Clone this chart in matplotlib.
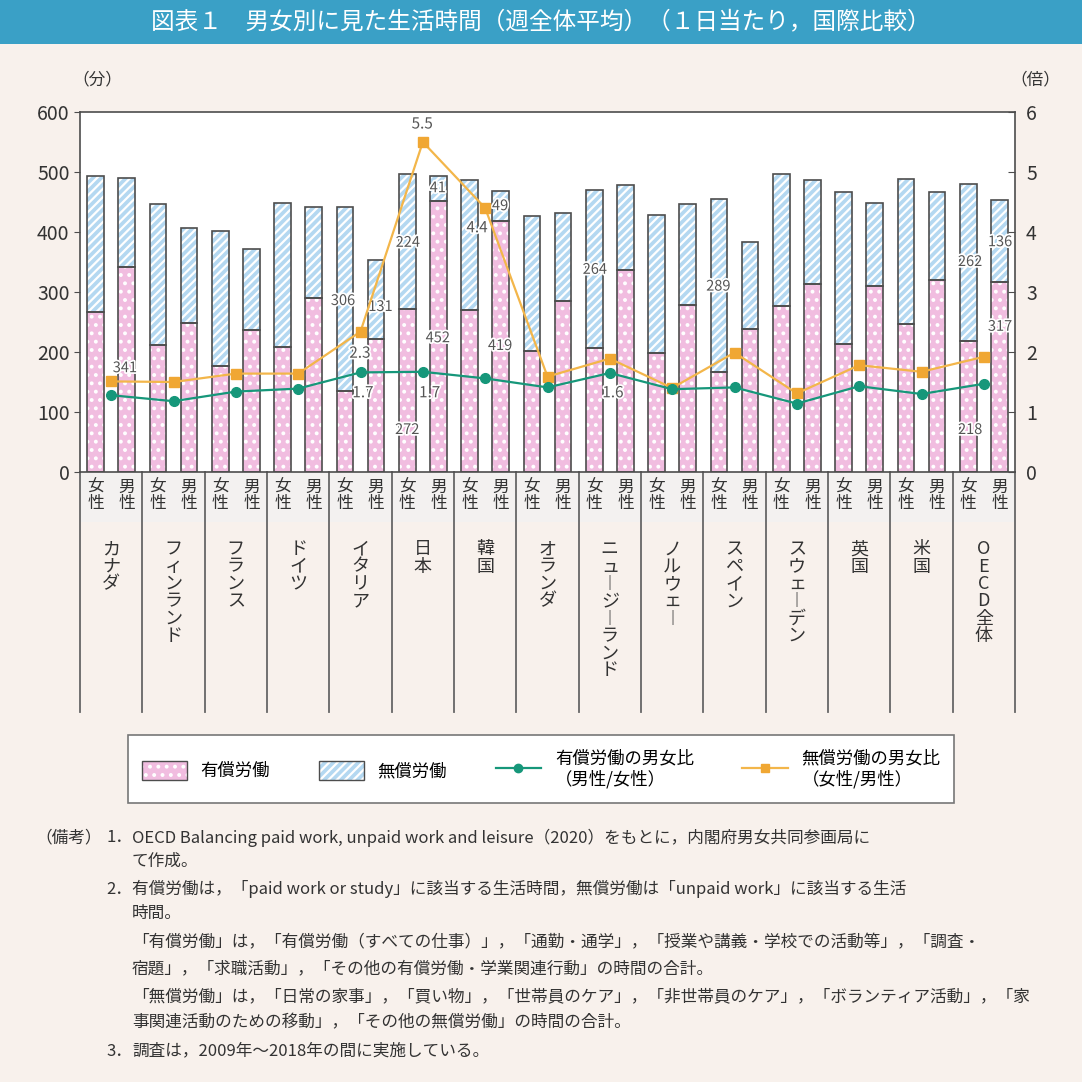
import matplotlib
matplotlib.use('Agg')
import matplotlib.pyplot as plt
import matplotlib.patheffects as pe
from matplotlib.patches import Patch, Rectangle
from matplotlib.lines import Line2D
import numpy as np

plt.rcParams['font.family'] = ['Noto Sans CJK JP', 'DejaVu Sans']
plt.rcParams['hatch.linewidth'] = 1.6

# データ（分／倍）
countries = ['カナダ', 'フィンランド', 'フランス', 'ドイツ', 'イタリア', '日本', '韓国', 'オランダ',
             'ニュージーランド', 'ノルウェー', 'スペイン', 'スウェーデン', '英国', '米国', 'OECD全体']
female_paid = [267, 212, 177, 209, 135, 272, 270, 202, 206, 198, 166, 277, 214, 247, 218]
female_unpaid = [226, 235, 224, 240, 306, 224, 217, 225, 264, 231, 289, 219, 252, 241, 262]
male_paid = [341, 249, 236, 290, 222, 452, 419, 285, 337, 279, 238, 313, 310, 320, 317]
male_unpaid = [149, 157, 135, 151, 131, 41, 49, 147, 141, 167, 146, 174, 139, 146, 136]
paid_ratio = [1.28, 1.18, 1.34, 1.39, 1.66, 1.67, 1.56, 1.41, 1.65, 1.38, 1.41, 1.14, 1.43, 1.30, 1.47]
unpaid_ratio = [1.51, 1.50, 1.64, 1.64, 2.34, 5.5, 4.4, 1.59, 1.89, 1.40, 1.99, 1.31, 1.78, 1.67, 1.92]

# 表示されている数値ラベル（x位置, y値, 文字列）
min_labels = [(0.22, 173, '341'), (3.72, 285, '306'), (4.32, 275, '131'),
              (4.76, 382, '224'), (4.75, 70, '272'), (5.24, 223, '452'), (5.24, 473, '41'),
              (6.24, 443, '49'), (6.24, 210, '419'), (7.76, 337, '264'), (9.74, 309, '289'),
              (13.78, 350, '262'), (14.26, 383, '136'), (13.78, 70, '218'), (14.26, 242, '317')]
ratio_labels = [(3.99, 1.98, '2.3'), (4.04, 1.32, '1.7'), (4.99, 5.8, '5.5'),
                (5.11, 1.32, '1.7'), (5.87, 4.07, '4.4'), (8.05, 1.32, '1.6')]

title = '図表１　男女別に見た生活時間（週全体平均）（１日当たり，国際比較）'

notes = [
    (0.098, 838, '1．'), (0.122, 838, 'OECD Balancing paid work, unpaid work and leisure（2020）をもとに，内閣府男女共同参画局に'),
    (0.122, 861, 'て作成。'),
    (0.098, 889, '2．'), (0.122, 889, '有償労働は，「paid work or study」に該当する生活時間，無償労働は「unpaid work」に該当する生活'),
    (0.122, 913, '時間。'),
    (0.122, 943, '「有償労働」は，「有償労働（すべての仕事）」，「通勤・通学」，「授業や講義・学校での活動等」，「調査・'),
    (0.122, 969, '宿題」，「求職活動」，「その他の有償労働・学業関連行動」の時間の合計。'),
    (0.122, 997, '「無償労働」は，「日常の家事」，「買い物」，「世帯員のケア」，「非世帯員のケア」，「ボランティア活動」，「家'),
    (0.122, 1023, '事関連活動のための移動」，「その他の無償労働」の時間の合計。'),
    (0.098, 1051, '3．'), (0.122, 1051, '調査は，2009年～2018年の間に実施している。'),
]

bg = '#f8f1ec'
pink = '#f1bde0'
blue = '#b4d8f1'
green = '#16977a'
orange = '#f0a733'
edge = '#4d4d4d'

fig = plt.figure(figsize=(10.82, 10.82), dpi=100, facecolor=bg)

# タイトル帯
H = 1082.0
fig.patches.append(Rectangle((0, 1 - 44 / H), 1, 44 / H, transform=fig.transFigure,
                             facecolor='#3aa0c6', edgecolor='none', zorder=0))
fig.text(0.5, 1 - 22 / H, title, color='white', ha='center', va='center', fontsize=17)

ax = fig.add_axes([80 / H, 1 - 472 / H, 935 / H, 360 / H])
ax.set_facecolor('white')
idx = np.arange(len(countries))
w = 0.27
xf = idx - 0.25
xm = idx + 0.25

for xs, paid, unpaid in [(xf, female_paid, female_unpaid), (xm, male_paid, male_unpaid)]:
    ax.bar(xs, paid, w, color=pink, edgecolor='white', hatch='..', linewidth=0, zorder=2)
    ax.bar(xs, unpaid, w, bottom=paid, color=blue, edgecolor='white', hatch='////', linewidth=0, zorder=2)
    ax.bar(xs, paid, w, fill=False, edgecolor=edge, linewidth=1.2, zorder=3)
    ax.bar(xs, unpaid, w, bottom=paid, fill=False, edgecolor=edge, linewidth=1.2, zorder=3)

ax.set_xlim(-0.5, len(countries) - 0.5)
ax.set_ylim(0, 600)
ax.set_yticks(range(0, 601, 100))
ax.set_xticks([])
ax.tick_params(axis='y', labelsize=14, length=4, color=edge, labelcolor='#333')
for s in ax.spines.values():
    s.set_color(edge)
    s.set_linewidth(1.2)

halo = [pe.withStroke(linewidth=2.5, foreground='white')]
for x, y, t in min_labels:
    ax.text(x, y, t, ha='center', va='center', fontsize=10.5, color='#555', zorder=6, path_effects=halo)

ax2 = ax.twinx()
ax2.set_ylim(0, 6)
ax2.set_yticks(range(0, 7))
ax2.tick_params(axis='y', labelsize=14, length=5, direction='in', color=edge, labelcolor='#333', pad=8)
for s in ax2.spines.values():
    s.set_visible(False)
ax2.plot(idx, unpaid_ratio, color='#f3b64a', lw=1.6, marker='s', ms=7, mfc=orange, mec=orange, zorder=4)
ax2.plot(idx, paid_ratio, color=green, lw=1.6, marker='o', ms=7, mfc=green, mec=green, zorder=5)
for x, y, t in ratio_labels:
    ax2.text(x, y, t, ha='center', va='center', fontsize=11, color='#555', zorder=6, path_effects=halo)

# 下部のカテゴリ表示
tr = ax.get_xaxis_transform()
ax.add_patch(Rectangle((-0.5, -0.14), len(countries), 0.14, transform=tr, facecolor='#f3f1f0',
                       edgecolor='none', clip_on=False, zorder=0))
for b in np.arange(-0.5, len(countries), 1.0):
    ax.plot([b, b], [0, -0.667], transform=tr, color='#666', lw=1.3, clip_on=False, zorder=1)
for i, name in enumerate(countries):
    ax.text(xf[i], -0.018, '女\n性', transform=tr, ha='center', va='top', fontsize=12,
            linespacing=0.95, color='#333')
    ax.text(xm[i], -0.018, '男\n性', transform=tr, ha='center', va='top', fontsize=12,
            linespacing=0.95, color='#333')
    vert = '\n'.join(name.replace('ー', '︱'))
    ax.text(i, -0.19, vert, transform=tr, ha='center', va='top', fontsize=13,
            linespacing=0.95, color='#333')

fig.text(97 / H, 1 - 80 / H, '（分）', ha='center', va='center', fontsize=12, color='#333')
fig.text(1035 / H, 1 - 80 / H, '（倍）', ha='center', va='center', fontsize=12, color='#333')

# 凡例
handles = [
    (Patch(facecolor=pink, edgecolor='white', hatch='..', linewidth=0), Patch(fill=False, edgecolor=edge)),
    (Patch(facecolor=blue, edgecolor='white', hatch='////', linewidth=0), Patch(fill=False, edgecolor=edge)),
    Line2D([], [], color=green, lw=1.6, marker='o', ms=6),
    Line2D([], [], color='#f3b64a', lw=1.6, marker='s', ms=6, mfc=orange, mec=orange),
]
labels = ['有償労働', '無償労働', '有償労働の男女比\n（男性/女性）', '無償労働の男女比\n（女性/男性）']
leg = fig.legend(handles, labels, loc='center', bbox_to_anchor=(541 / H, 1 - 769 / H), ncol=4,
                 fontsize=12.5, frameon=True, fancybox=False, edgecolor='#777', facecolor='white',
                 handlelength=2.6, handleheight=1.3, columnspacing=2.8, borderpad=0.8, framealpha=1)
leg.get_frame().set_linewidth(1.2)

# 備考
fig.text(35 / H, 1 - 838 / H, '（備考）', ha='left', va='center', fontsize=12, color='#333')
for x, y, t in notes:
    fig.text(x, 1 - y / H, t, ha='left', va='center', fontsize=12, color='#333')

fig.savefig('out.png', dpi=100, facecolor=bg)
